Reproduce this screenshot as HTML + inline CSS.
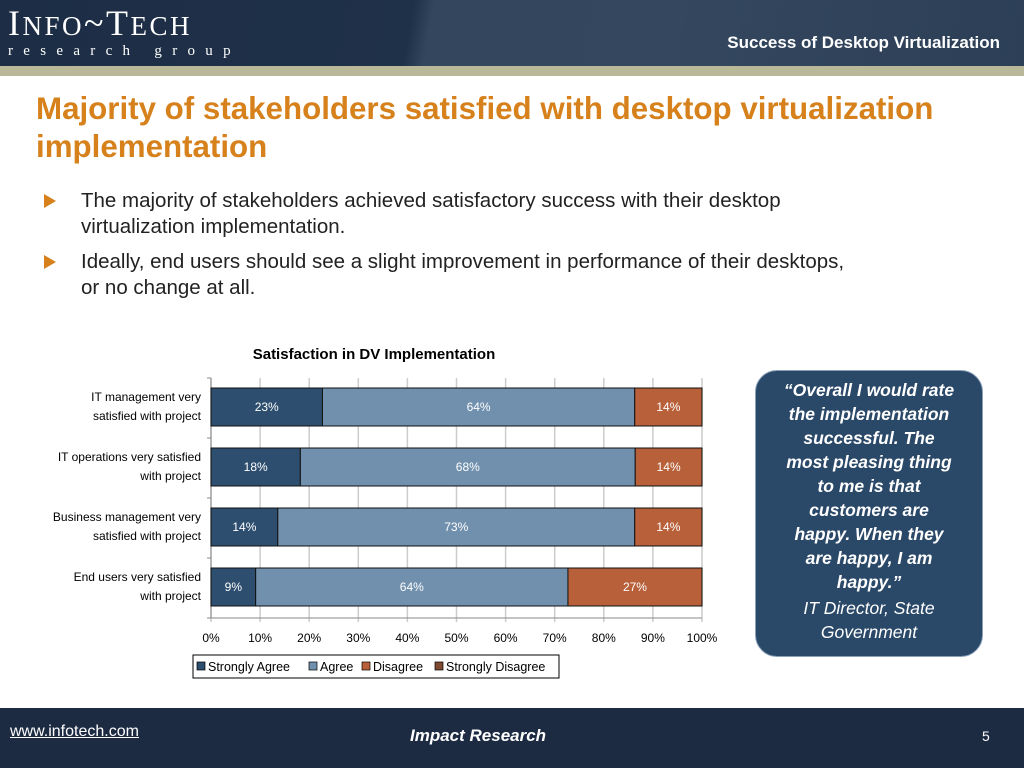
<!DOCTYPE html>
<html><head><meta charset="utf-8"><style>
body{margin:0;width:1024px;height:768px;position:relative;overflow:hidden;background:#fff;font-family:"Liberation Sans",sans-serif}
.abs{position:absolute}
</style></head><body>
<div class="abs" style="left:0;top:0;width:1024px;height:66px;background:linear-gradient(100deg,#1c2d45 0%,#1f3149 40%,#33465d 42%,#34475e 65%,#2c3f57 100%)"></div>
<div class="abs" style="left:0;top:66px;width:1024px;height:10px;background:#b9b999"></div>
<div class="abs" style="left:8px;top:5px;color:#fff;font-family:'Liberation Serif',serif">
 <div style="font-size:36px;letter-spacing:2.5px;line-height:36px">I<span style="font-size:27px">NFO</span>~T<span style="font-size:27px">ECH</span></div>
 <div style="font-size:15px;letter-spacing:10.3px;line-height:15px">research group</div>
</div>
<div class="abs" style="right:24px;top:33px;color:#fff;font-weight:bold;font-size:17px">Success of Desktop Virtualization</div>
<div class="abs" style="left:36px;top:90px;width:980px;color:#d6811b;font-weight:bold;font-size:31.3px;line-height:38px">Majority of stakeholders satisfied with desktop virtualization implementation</div>
<div class="abs" style="left:81px;top:188px;width:900px;font-size:20.5px;line-height:26px;color:#222">The majority of stakeholders achieved satisfactory success with their desktop<br>virtualization implementation.</div>
<div class="abs" style="left:44px;top:194px;width:0;height:0;border-left:12px solid #d6811b;border-top:7px solid transparent;border-bottom:7px solid transparent"></div>
<div class="abs" style="left:81px;top:249px;width:900px;font-size:20.5px;line-height:26px;color:#222">Ideally, end users should see a slight improvement in performance of their desktops,<br>or no change at all.</div>
<div class="abs" style="left:44px;top:255px;width:0;height:0;border-left:12px solid #d6811b;border-top:7px solid transparent;border-bottom:7px solid transparent"></div>

<svg class="abs" style="left:0;top:0" width="1024" height="768" id="chart"></svg>

<div class="abs" style="left:755px;top:370px;width:226px;height:285px;background:#2a4868;border:1.5px solid #8aa0b8;border-radius:22px;color:#fff;text-align:center;font-size:17.5px;line-height:24px;white-space:nowrap">
 <div style="font-weight:bold;font-style:italic;margin-top:7px">“Overall I would rate<br>the implementation<br>successful. The<br>most pleasing thing<br>to me is that<br>customers are<br>happy. When they<br>are happy, I am<br>happy.”</div>
 <div style="font-style:italic;margin-top:2px">IT Director, State<br>Government</div>
</div>

<div class="abs" style="left:0;top:708px;width:1024px;height:60px;background:#1c2b42"></div>
<div class="abs" style="left:10px;top:723px;color:#fff;font-size:16px;text-decoration:underline">www.infotech.com</div>
<div class="abs" style="left:410px;top:726px;color:#fff;font-size:17px;font-weight:bold;font-style:italic">Impact Research</div>
<div class="abs" style="left:982px;top:728px;color:#fff;font-size:14px">5</div>

<script>
const categories=[["IT management very","satisfied with project"],["IT operations very satisfied","with project"],["Business management very","satisfied with project"],["End users very satisfied","with project"]];
const stronglyAgree=[22.7,18.2,13.6,9.1];
const agree=[63.6,68.2,72.7,63.6];
const disagree=[13.7,13.6,13.7,27.3];
const stronglyDisagree=[0,0,0,0];
const xTicks=[0,10,20,30,40,50,60,70,80,90,100];
const seriesNames=["Strongly Agree","Agree","Disagree","Strongly Disagree"];
const colors=["#2d4e6e","#7190ae","#b8603a","#7e4a32"];
const NS="http://www.w3.org/2000/svg";
const svg=document.getElementById('chart');
const X0=211,X1=702,Y0=378,Y1=618;
const x=v=>X0+(X1-X0)*v/100;
const band=(Y1-Y0)/categories.length;
const y=i=>Y0+band*i;
function mk(t,a,p){const e=document.createElementNS(NS,t);for(const k in a)e.setAttribute(k,a[k]);(p||svg).appendChild(e);return e;}
let t=mk('text',{x:374,y:359,'text-anchor':'middle','font-size':15,'font-weight':'bold',fill:'#000'});t.textContent="Satisfaction in DV Implementation";


xTicks.forEach(v=>{
 const g=mk('line',{x1:x(v),x2:x(v),y1:Y0,y2:Y1+4,stroke:'#ccc','stroke-width':1.5});
 
 
 const l=mk('text',{x:x(v),y:642,'text-anchor':'middle','font-size':12,fill:'#000'});l.textContent=v+'%';
 
 
});
mk('line',{x1:X0,x2:X0,y1:Y0,y2:Y1,stroke:'#888'});
mk('line',{x1:X0,x2:X1,y1:Y1,y2:Y1,stroke:'#888'});
for(let i=0;i<=categories.length;i++)mk('line',{x1:X0-4,x2:X0,y1:y(i),y2:y(i),stroke:'#888'});
const series=[stronglyAgree,agree,disagree,stronglyDisagree];
categories.forEach((c,i)=>{
 const by=y(i)+10,bh=38;
 let acc=0;
 series.forEach((s,k)=>{
  const v=s[i];if(v<=0)return;
  const r=mk('rect',{x:x(acc),y:by,width:x(acc+v)-x(acc),height:bh,fill:colors[k],stroke:'#111','stroke-width':1});
  
  
  const lb=mk('text',{x:(x(acc)+x(acc+v))/2,y:by+bh/2+4,'text-anchor':'middle','font-size':12,fill:'#fff'});
  lb.textContent=Math.round(v)+'%';
  
  
  acc+=v;
 });
 const ct=mk('text',{'text-anchor':'end','font-size':12,fill:'#000'});
 
 
 c.forEach((ln,j)=>{const s=mk('tspan',{x:201,y:y(i)+band/2-7+j*19},ct);s.textContent=ln;});
});
const lg=mk('rect',{x:193,y:655,width:366,height:23,fill:'#fff',stroke:'#000'});


const lx=[197,309,362,435];
seriesNames.forEach((n,k)=>{
 mk('rect',{x:lx[k],y:662,width:8,height:8,fill:colors[k],stroke:'#000','stroke-width':0.7});
 const tt=mk('text',{x:lx[k]+11,y:671,'font-size':12.5,fill:'#000'});tt.textContent=n;
 
 
});
</script>
</body></html>
